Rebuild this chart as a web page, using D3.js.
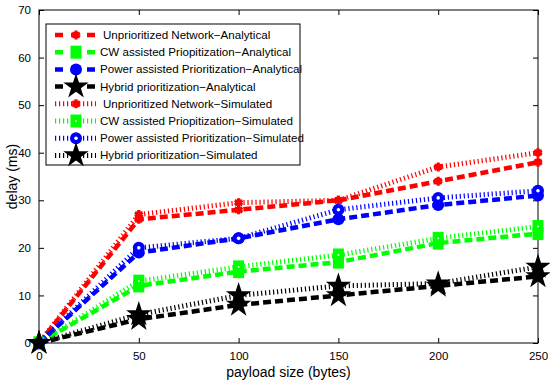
<!DOCTYPE html>
<html>
<head>
<meta charset="utf-8">
<title>delay vs payload</title>
<script src="https://cdn.jsdelivr.net/npm/d3@7"></script>
<style>
  body { margin: 0; background: #fff; font-family: 'Liberation Sans', Arial, sans-serif; }
  #chart svg { display: block; }
</style>
</head>
<body>
<div id="chart"></div>
<script>
// values
var payload = [0, 50, 100, 150, 200, 250];
var unprioAna = [0, 26, 28, 30, 34, 38];
var cwAna = [0, 12, 15, 17, 21, 23];
var powerAna = [0, 19, 22, 26, 29, 31];
var hybridAna = [0, 5, 8, 10, 12, 14];
var unprioSim = [0, 27, 29.5, 30, 37, 40];
var cwSim = [0, 13, 16, 18.5, 22, 24.5];
var powerSim = [0, 20, 22, 28, 30.5, 32];
var hybridSim = [0, 6, 10, 12, 12.5, 16];

var xTicks = [0, 50, 100, 150, 200, 250];
var yTicks = [0, 10, 20, 30, 40, 50, 60, 70];

var series = [
    { name: "Unprioritized Network\u2212Analytical", values: unprioAna, color: "#ff0000", marker: "star6", sim: false },
    { name: "CW assisted Priopitization\u2212Analytical", values: cwAna, color: "#00ff00", marker: "square", sim: false },
    { name: "Power assisted Prioritization\u2212Analytical", values: powerAna, color: "#0000ff", marker: "circle", sim: false },
    { name: "Hybrid prioritization\u2212Analytical", values: hybridAna, color: "#000000", marker: "star", sim: false },
    { name: "Unprioritized Network\u2212Simulated", values: unprioSim, color: "#ff0000", marker: "star6", sim: true },
    { name: "CW assisted Priopitization\u2212Simulated", values: cwSim, color: "#00ff00", marker: "square", sim: true },
    { name: "Power assisted Prioritization\u2212Simulated", values: powerSim, color: "#0000ff", marker: "circle", sim: true },
    { name: "Hybrid prioritization\u2212Simulated", values: hybridSim, color: "#000000", marker: "star", sim: true }
];

var width = 550, height = 381;
var margin = { top: 10, right: 12, bottom: 38, left: 39 };
var pw = width - margin.left - margin.right;
var ph = height - margin.top - margin.bottom;

var svg = d3.select("#chart").append("svg").attr("width", width).attr("height", height);
var g = svg.append("g").attr("transform", "translate(" + margin.left + "," + margin.top + ")");

var x = d3.scaleLinear().domain([0, 250]).range([0, pw]);
var y = d3.scaleLinear().domain([0, 70]).range([ph, 0]);

// axes, MATLAB style: ticks inside, box all round
function styleAxis(sel) {
    sel.select(".domain").remove();
    sel.selectAll("line").attr("stroke", "#000").attr("stroke-width", 1);
    sel.selectAll("text").attr("font-size", 11.5).attr("fill", "#000")
        .attr("font-family", "'Liberation Sans', Arial, sans-serif");
}
g.append("g").attr("transform", "translate(0," + ph + ")")
    .call(d3.axisBottom(x).tickValues(xTicks).tickSize(-5).tickPadding(9).tickFormat(d3.format("d")))
    .call(styleAxis);
g.append("g")
    .call(d3.axisLeft(y).tickValues(yTicks).tickSize(-5).tickPadding(8).tickFormat(d3.format("d")))
    .call(styleAxis);
g.append("g")
    .call(d3.axisTop(x).tickValues(xTicks).tickSize(-5).tickFormat(""))
    .call(styleAxis);
g.append("g").attr("transform", "translate(" + pw + ",0)")
    .call(d3.axisRight(y).tickValues(yTicks).tickSize(-5).tickFormat(""))
    .call(styleAxis);
g.append("rect").attr("width", pw).attr("height", ph)
    .attr("fill", "none").attr("stroke", "#000").attr("stroke-width", 1);

// markers
function drawMarker(sel, s, cx, cy) {
    var m = sel.append("g").attr("transform", "translate(" + cx + "," + cy + ")");
    if (s.marker === "star6") {
        m.append("path").attr("d", d3.symbol().type(d3.symbolAsterisk).size(55)())
            .attr("fill", "none").attr("stroke", s.color).attr("stroke-width", 3.2);
        m.append("circle").attr("r", 3.2).attr("fill", s.color);
    } else if (s.marker === "square") {
        m.append("rect").attr("x", -5.5).attr("y", -6.5).attr("width", 11).attr("height", 13).attr("fill", s.color);
        if (s.sim) m.append("rect").attr("x", -0.8).attr("y", -0.8).attr("width", 1.6).attr("height", 1.6).attr("fill", "#fff");
    } else if (s.marker === "circle") {
        m.append("circle").attr("r", 6).attr("fill", s.color);
        if (s.sim) m.append("circle").attr("r", 1.8).attr("fill", "#fff");
    } else {
        m.append("path").attr("d", d3.symbol().type(d3.symbolStar).size(200)())
            .attr("fill", s.color);
    }
}

var line = d3.line().x(function (d, i) { return x(payload[i]); }).y(function (d) { return y(d); });

series.forEach(function (s) {
    g.append("path").datum(s.values)
        .attr("d", line)
        .attr("fill", "none")
        .attr("stroke", s.color)
        .attr("stroke-width", s.sim ? 5 : 4.5)
        .attr("stroke-dasharray", s.sim ? "1.2,2.8" : "8,4");
    var mg = g.append("g");
    s.values.forEach(function (v, i) { drawMarker(mg, s, x(payload[i]), y(v)); });
});

// legend
var lg = g.append("g").attr("transform", "translate(7,14)");
lg.append("rect").attr("width", 254).attr("height", 141)
    .attr("fill", "#fff").attr("stroke", "#000").attr("stroke-width", 1);
series.forEach(function (s, i) {
    var ly = 11 + i * 17.2;
    lg.append("line").attr("x1", 9).attr("x2", 50).attr("y1", ly).attr("y2", ly)
        .attr("stroke", s.color).attr("stroke-width", s.sim ? 5 : 4.5)
        .attr("stroke-dasharray", s.sim ? "1.2,2.8" : "8,8");
    drawMarker(lg, s, 30, ly);
    lg.append("text").attr("x", i % 4 === 0 ? 57 : 54).attr("y", ly).attr("dy", "0.35em")
        .attr("font-size", 11.6).attr("fill", "#000").text(s.name);
});

// axis titles
svg.append("text").attr("x", margin.left + pw / 2).attr("y", 377)
    .attr("text-anchor", "middle").attr("font-size", 14).text("payload size (bytes)");
svg.append("text").attr("transform", "translate(17," + (margin.top + ph / 2) + ") rotate(-90)")
    .attr("text-anchor", "middle").attr("font-size", 14).text("delay (ms)");
</script>
</body>
</html>
